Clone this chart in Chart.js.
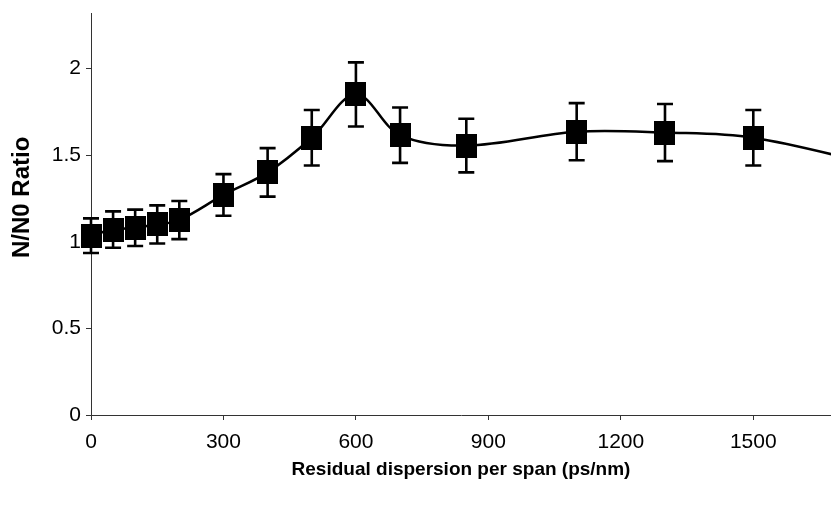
<!DOCTYPE html>
<html>
<head>
<meta charset="utf-8">
<script src="https://cdn.jsdelivr.net/npm/chart.js@4.4.1/dist/chart.umd.min.js"></script>
<style>
  html, body { margin: 0; padding: 0; background: #fff; }
  #wrap { width: 831px; height: 508px; position: relative; }
</style>
</head>
<body>
<div id="wrap"><canvas id="grafica"></canvas></div>
<script>
// residual dispersion per span (ps/nm) and N/N0 ratio with its error
var dispersion = [0, 50, 100, 150, 200, 300, 400, 500, 600, 700, 850, 1100, 1300, 1500, 1800]
var ratio      = [1.035, 1.07, 1.08, 1.10, 1.125, 1.27, 1.40, 1.60, 1.85, 1.615, 1.555, 1.635, 1.63, 1.60, 1.43]
var errors     = [0.10, 0.105, 0.105, 0.11, 0.11, 0.12, 0.14, 0.16, 0.185, 0.16, 0.155, 0.165, 0.165, 0.16, 0.15]
var x_ticks    = [0, 300, 600, 900, 1200, 1500]
var y_ticks    = [0, 0.5, 1, 1.5, 2]

var puntos = []
for (var i = 0; i < dispersion.length; i++) {
    puntos.push({x: dispersion[i], y: ratio[i]})
}

// the Excel square marker is a little taller than wide
var marcador = document.createElement('canvas')
marcador.width = 21
marcador.height = 24
var mctx = marcador.getContext('2d')
mctx.fillStyle = '#000'
mctx.fillRect(0, 0, 21, 24)

// whiskers, drawn from the same scales as the points
const barras_error = {
    id: 'barras_error',
    afterDatasetsDraw(chart) {
        const ctx = chart.ctx
        const xs = chart.scales.x
        const ys = chart.scales.y
        ctx.save()
        ctx.strokeStyle = '#000'
        ctx.lineWidth = 2.6
        for (var i = 0; i < dispersion.length; i++) {
            var px = xs.getPixelForValue(dispersion[i])
            var arriba = ys.getPixelForValue(ratio[i] + errors[i])
            var abajo = ys.getPixelForValue(ratio[i] - errors[i])
            ctx.beginPath()
            ctx.moveTo(px, arriba); ctx.lineTo(px, abajo)
            ctx.moveTo(px - 8, arriba); ctx.lineTo(px + 8, arriba)
            ctx.moveTo(px - 8, abajo); ctx.lineTo(px + 8, abajo)
            ctx.stroke()
        }
        ctx.restore()
    }
}

const fuente = "'Liberation Sans', Arial, sans-serif"

function sin_relleno(scale) {
    scale.paddingTop = 0
    scale.paddingBottom = 0
    scale.paddingLeft = 0
    scale.paddingRight = 0
}

new Chart(document.getElementById('grafica'), {
    type: 'line',
    data: {
        datasets: [{
            label: 'N/N0',
            data: puntos,
            borderColor: '#000',
            backgroundColor: '#000',
            borderWidth: 2.5,
            pointStyle: marcador,
            pointRadius: 12,
            pointHoverRadius: 12,
            tension: 0.35,
            clip: false,
        }]
    },
    options: {
        responsive: true,
        maintainAspectRatio: false,
        animation: false,
        layout: { autoPadding: false, padding: { top: 13, right: 0, bottom: 0, left: 0 } },
        plugins: { legend: { display: false }, tooltip: { enabled: false } },
        scales: {
            x: {
                type: 'linear',
                min: 0,
                max: 1676,
                afterFit: function(scale) { scale.height = 93; sin_relleno(scale) },
                afterBuildTicks: function(scale) { scale.ticks = x_ticks.map(v => ({value: v})) },
                border: { color: '#333', width: 1 },
                grid: { drawOnChartArea: false, drawTicks: true, tickLength: 5, color: '#333' },
                ticks: {
                    color: '#000', padding: 10, maxRotation: 0,
                    font: { family: fuente, size: 21 },
                    callback: function(v) { return String(v) }
                },
                title: {
                    display: true,
                    text: 'Residual dispersion per span (ps/nm)',
                    color: '#000',
                    font: { family: fuente, size: 19, weight: 'bold' },
                    padding: { top: 0, bottom: 27 }
                }
            },
            y: {
                min: 0,
                max: 2.32,
                afterFit: function(scale) { scale.width = 91; sin_relleno(scale) },
                afterBuildTicks: function(scale) { scale.ticks = y_ticks.map(v => ({value: v})) },
                border: { color: '#333', width: 1 },
                grid: { drawOnChartArea: false, drawTicks: true, tickLength: 5, color: '#333' },
                ticks: {
                    color: '#000', padding: 5,
                    font: { family: fuente, size: 21 },
                    callback: function(v) { return String(v) }
                },
                title: {
                    display: true,
                    text: '     N/N0 Ratio',
                    color: '#000',
                    font: { family: fuente, size: 24, weight: 'bold' },
                    padding: { top: 8, bottom: 0 }
                }
            }
        }
    },
    plugins: [barras_error]
});
</script>
</body>
</html>
